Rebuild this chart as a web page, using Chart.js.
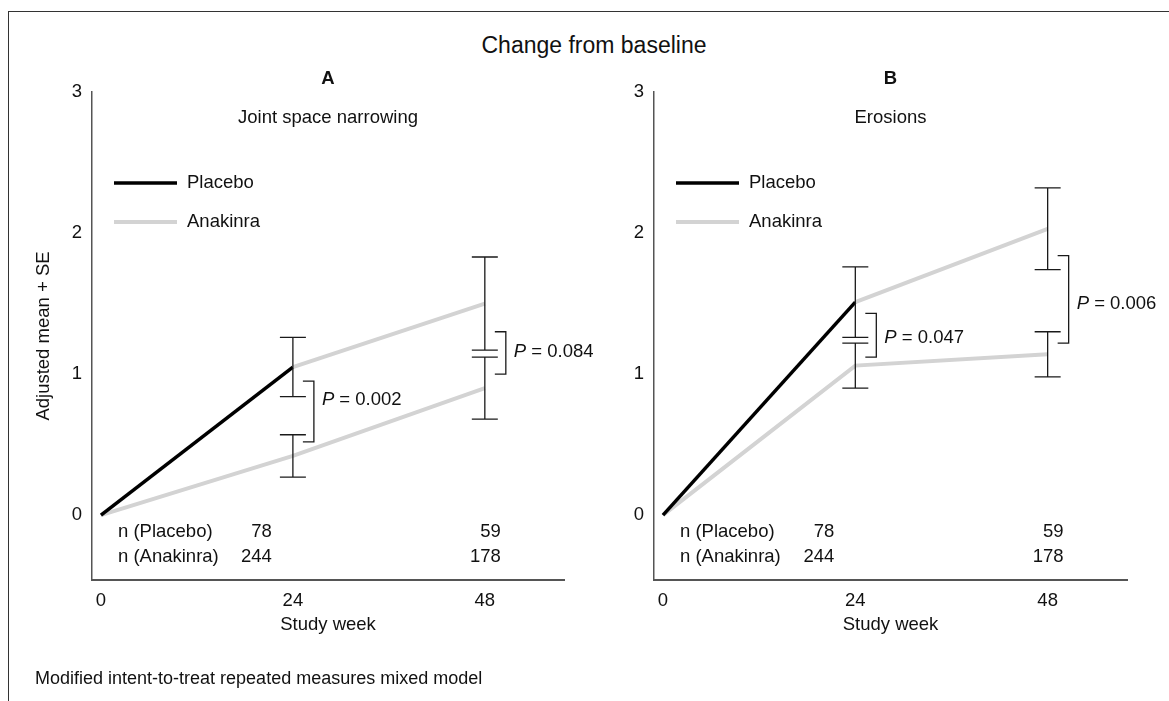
<!DOCTYPE html>
<html>
<head>
<meta charset="utf-8">
<script src="https://cdn.jsdelivr.net/npm/chart.js@4.4.0/dist/chart.umd.min.js"></script>
<style>
  body { margin: 0; background: #fff; font-family: "Liberation Sans", Arial, sans-serif; color: #111; }
  #page { position: relative; width: 1169px; height: 701px; overflow: hidden; }
  #frame { position: absolute; left: 8px; top: 11px; width: 1200px; height: 720px;
           border-top: 1.5px solid #333; border-left: 1.5px solid #333; }
  #title { position: absolute; left: 0; width: 1188px; top: 34px; text-align: center;
           font-size: 23px; line-height: 23px; }
  #note { position: absolute; left: 35px; top: 669px; font-size: 18px; line-height: 18px; }
  #panelA { position: absolute; left: 0; top: 0; }
  #panelB { position: absolute; left: 570px; top: 0; }
</style>
</head>
<body>
<div id="page">
  <div id="frame"></div>
  <div id="title">Change from baseline</div>
  <canvas id="panelA" width="600" height="701"></canvas>
  <canvas id="panelB" width="599" height="701"></canvas>
  <div id="note">Modified intent-to-treat repeated measures mixed model</div>
</div>
<script>
// values
const weeks = [0, 24, 48];
const xTicks = [0, 24, 48];
const yTicks = [0, 1, 2, 3];
const seriesNames = ['Placebo', 'Anakinra'];

// A: joint space narrowing
const placeboA = [0, 1.05, 1.50];
const placeboSeA = [0, 0.21, 0.33];
const anakinraA = [0, 0.42, 0.90];
const anakinraSeA = [0, 0.15, 0.22];
const pTextA = ['0.002', '0.084'];
const pTopA = [0.95, 1.30];
const pBottomA = [0.52, 1.00];
const pLabelAtA = [0.82, 1.16];

// B: erosions
const placeboB = [0, 1.51, 2.03];
const placeboSeB = [0, 0.25, 0.29];
const anakinraB = [0, 1.06, 1.14];
const anakinraSeB = [0, 0.16, 0.16];
const pTextB = ['0.047', '0.006'];
const pTopB = [1.43, 1.84];
const pBottomB = [1.12, 1.22];
const pLabelAtB = [1.26, 1.50];

// sample sizes under the lines
const nWeeks = [24, 48];
const nPlacebo = [78, 59];
const nAnakinra = [244, 178];

const BLACK = '#000000';
const GREY = '#d3d3d3';
const FONT = '"Liberation Sans", Arial, sans-serif';
const tickFont = { family: FONT, size: 18.5 };

const panelExtras = {
  id: 'panelExtras',
  afterDatasetsDraw(chart, args, opts) {
    const { ctx, chartArea, scales: { x, y } } = chart;
    const midX = (chartArea.left + chartArea.right) / 2;
    ctx.save();

    // error bars (mean +/- SE)
    ctx.strokeStyle = '#1a1a1a';
    ctx.lineWidth = 1.3;
    opts.bars.forEach(b => {
      b.mean.forEach((m, i) => {
        const se = b.se[i];
        if (!se) return;
        const px = x.getPixelForValue(weeks[i]);
        const top = y.getPixelForValue(m + se);
        const bot = y.getPixelForValue(m - se);
        ctx.beginPath();
        ctx.moveTo(px, top); ctx.lineTo(px, bot);
        ctx.moveTo(px - 13, top); ctx.lineTo(px + 13, top);
        ctx.moveTo(px - 13, bot); ctx.lineTo(px + 13, bot);
        ctx.stroke();
      });
    });

    // P value brackets
    ctx.fillStyle = '#111';
    ctx.textBaseline = 'middle';
    opts.pText.forEach((t, i) => {
      const px = x.getPixelForValue(xTicks[i + 1]);
      const y1 = y.getPixelForValue(opts.pTop[i]);
      const y2 = y.getPixelForValue(opts.pBottom[i]);
      ctx.beginPath();
      ctx.moveTo(px + 10, y1); ctx.lineTo(px + 21, y1);
      ctx.lineTo(px + 21, y2); ctx.lineTo(px + 10, y2);
      ctx.stroke();
      const ty = y.getPixelForValue(opts.pLabelAt[i]);
      ctx.textAlign = 'left';
      ctx.font = 'italic 18.5px ' + FONT;
      ctx.fillText('P', px + 29, ty);
      const w = ctx.measureText('P').width;
      ctx.font = '18.5px ' + FONT;
      ctx.fillText(' = ' + t, px + 29 + w, ty);
    });

    // legend
    const colors = [BLACK, GREY];
    seriesNames.forEach((name, i) => {
      const ly = chartArea.top + 91 + i * 39;
      ctx.strokeStyle = colors[i];
      ctx.lineWidth = i === 0 ? 3.5 : 4;
      ctx.beginPath();
      ctx.moveTo(chartArea.left + 22, ly);
      ctx.lineTo(chartArea.left + 85, ly);
      ctx.stroke();
      ctx.fillStyle = '#111';
      ctx.textAlign = 'left';
      ctx.font = '18.5px ' + FONT;
      ctx.fillText(name, chartArea.left + 95, ly);
    });

    // panel headings
    ctx.textAlign = 'center';
    ctx.font = 'bold 18.5px ' + FONT;
    ctx.fillText(opts.letter, midX, chartArea.top - 13);
    ctx.font = '18.5px ' + FONT;
    ctx.fillText(opts.heading, midX, chartArea.top + 26);

    // n table
    const zero = y.getPixelForValue(0);
    const rows = [['n (Placebo)', nPlacebo], ['n (Anakinra)', nAnakinra]];
    rows.forEach(([label, vals], r) => {
      const ry = zero + 17 + r * 25;
      ctx.textAlign = 'left';
      ctx.fillText(label, chartArea.left + 26, ry);
      ctx.textAlign = 'right';
      vals.forEach((v, i) => {
        const px = x.getPixelForValue(nWeeks[i]);
        ctx.fillText(String(v), nWeeks[i] === 24 ? px - 21 : px + 16, ry);
      });
    });
    ctx.restore();
  }
};

function toPoints(vals) {
  return vals.map((v, i) => ({ x: weeks[i], y: v }));
}

function createPanel(canvasId, cfg) {
  const ctx = document.getElementById(canvasId).getContext('2d');
  new Chart(ctx, {
    type: 'line',
    data: {
      datasets: [{
        label: seriesNames[0],
        data: toPoints(cfg.placebo),
        borderColor: BLACK,
        borderWidth: 3.5,
        pointRadius: 0,
        // placebo turns grey after week 24
        segment: { borderColor: c => (c.p0.parsed.x >= 24 ? GREY : BLACK),
                   borderWidth: c => (c.p0.parsed.x >= 24 ? 4 : 3.5) },
      }, {
        label: seriesNames[1],
        data: toPoints(cfg.anakinra),
        borderColor: GREY,
        borderWidth: 4,
        pointRadius: 0,
      }]
    },
    options: {
      responsive: false,
      animation: false,
      layout: { padding: cfg.padding },
      plugins: {
        legend: { display: false },
        tooltip: { enabled: false },
        panelExtras: {
          letter: cfg.letter,
          heading: cfg.heading,
          bars: [{ mean: cfg.placebo, se: cfg.placeboSe }, { mean: cfg.anakinra, se: cfg.anakinraSe }],
          pText: cfg.pText,
          pTop: cfg.pTop,
          pBottom: cfg.pBottom,
          pLabelAt: cfg.pLabelAt,
        },
      },
      scales: {
        x: {
          type: 'linear',
          min: -1.12,
          max: 57.9,
          afterBuildTicks: s => { s.ticks = xTicks.map(v => ({ value: v })); },
          afterFit: s => { s.height = 60; },
          grid: { display: false, drawTicks: false },
          border: { display: true, color: '#555', width: 2 },
          ticks: { padding: 10, color: '#111', font: tickFont, maxRotation: 0 },
          title: { display: true, text: 'Study week', color: '#111', font: tickFont, padding: { top: 4, bottom: 4 } },
        },
        y: {
          type: 'linear',
          min: -0.46,
          max: 3,
          afterBuildTicks: s => { s.ticks = yTicks.map(v => ({ value: v })); },
          afterFit: s => { s.width = cfg.yTitle ? 63 : 40; },
          grid: { display: false, drawTicks: false },
          border: { display: true, color: '#555', width: 1.5 },
          ticks: { padding: 10, color: '#111', font: tickFont },
          title: { display: !!cfg.yTitle, text: cfg.yTitle || '', color: '#111', font: tickFont, padding: { top: 4, bottom: 4 } },
        },
      },
    },
    plugins: [panelExtras],
  });
}

createPanel('panelA', {
  letter: 'A', heading: 'Joint space narrowing', yTitle: 'Adjusted mean + SE',
  placebo: placeboA, placeboSe: placeboSeA, anakinra: anakinraA, anakinraSe: anakinraSeA,
  pText: pTextA, pTop: pTopA, pBottom: pBottomA, pLabelAt: pLabelAtA,
  padding: { left: 29, top: 92, right: 36, bottom: 61 },
});

createPanel('panelB', {
  letter: 'B', heading: 'Erosions', yTitle: null,
  placebo: placeboB, placeboSe: placeboSeB, anakinra: anakinraB, anakinraSe: anakinraSeB,
  pText: pTextB, pTop: pTopB, pBottom: pBottomB, pLabelAt: pLabelAtB,
  padding: { left: 44, top: 92, right: 42, bottom: 61 },
});
</script>
</body>
</html>
